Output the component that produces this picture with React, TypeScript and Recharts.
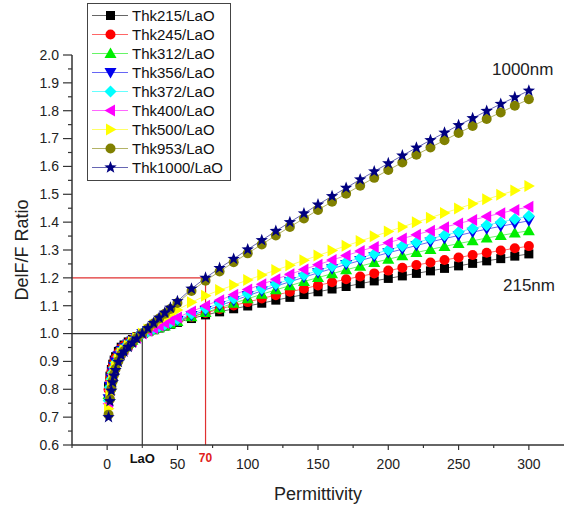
import { LineChart, Line, XAxis, YAxis, ReferenceLine, Legend } from "recharts";

// permittivity values (x) shared by every thickness
const PERM = [1, 2, 3, 4, 5, 6, 8, 10, 12, 15, 18, 21, 25, 29, 33, 37, 41, 45, 50,
  60, 70, 80, 90, 100, 110, 120, 130, 140, 150, 160, 170, 180, 190, 200,
  210, 220, 230, 240, 250, 260, 270, 280, 290, 300];

const THK215 = [0.811, 0.847, 0.871, 0.890, 0.905, 0.917, 0.936, 0.951, 0.959, 0.970, 0.979, 0.989, 1.000,
  1.007, 1.014, 1.020, 1.027, 1.033, 1.040,
  1.054, 1.067, 1.078, 1.089, 1.099, 1.109, 1.120, 1.130, 1.140, 1.150, 1.160, 1.169, 1.179, 1.189, 1.198,
  1.207, 1.216, 1.225, 1.234, 1.243, 1.252, 1.261, 1.269, 1.278, 1.286];
const THK245 = [0.799, 0.837, 0.863, 0.883, 0.899, 0.912, 0.932, 0.948, 0.956, 0.968, 0.978, 0.988, 1.000,
  1.008, 1.015, 1.022, 1.029, 1.036, 1.044,
  1.060, 1.074, 1.088, 1.101, 1.113, 1.126, 1.138, 1.150, 1.161, 1.173, 1.184, 1.195, 1.205, 1.216, 1.226,
  1.236, 1.246, 1.255, 1.264, 1.273, 1.282, 1.290, 1.298, 1.306, 1.314];
const THK312 = [0.781, 0.823, 0.850, 0.872, 0.890, 0.904, 0.926, 0.943, 0.953, 0.965, 0.976, 0.987, 1.000,
  1.007, 1.014, 1.021, 1.027, 1.034, 1.043,
  1.060, 1.076, 1.092, 1.109, 1.125, 1.141, 1.157, 1.172, 1.187, 1.201, 1.215, 1.229, 1.242, 1.255, 1.267,
  1.279, 1.291, 1.302, 1.313, 1.323, 1.333, 1.343, 1.352, 1.361, 1.369];
const THK356 = [0.766, 0.810, 0.840, 0.863, 0.882, 0.898, 0.920, 0.939, 0.949, 0.963, 0.974, 0.986, 1.000,
  1.008, 1.016, 1.024, 1.031, 1.038, 1.047,
  1.065, 1.083, 1.100, 1.118, 1.136, 1.153, 1.170, 1.186, 1.202, 1.218, 1.233, 1.248, 1.262, 1.276, 1.290,
  1.303, 1.316, 1.329, 1.341, 1.352, 1.364, 1.375, 1.385, 1.395, 1.405];
const THK372 = [0.760, 0.806, 0.836, 0.860, 0.879, 0.895, 0.918, 0.938, 0.948, 0.962, 0.974, 0.986, 1.000,
  1.008, 1.017, 1.025, 1.033, 1.041, 1.051,
  1.071, 1.090, 1.108, 1.126, 1.143, 1.161, 1.178, 1.194, 1.210, 1.226, 1.242, 1.257, 1.271, 1.286, 1.300,
  1.314, 1.327, 1.340, 1.353, 1.365, 1.377, 1.389, 1.400, 1.411, 1.422];
const THK400 = [0.748, 0.796, 0.828, 0.853, 0.873, 0.890, 0.914, 0.934, 0.945, 0.960, 0.972, 0.985, 1.000,
  1.010, 1.019, 1.028, 1.038, 1.047, 1.058,
  1.079, 1.100, 1.120, 1.139, 1.158, 1.177, 1.195, 1.213, 1.230, 1.247, 1.264, 1.280, 1.296, 1.311, 1.326,
  1.341, 1.355, 1.369, 1.382, 1.395, 1.408, 1.420, 1.432, 1.444, 1.455];
const THK500 = [0.730, 0.781, 0.815, 0.842, 0.864, 0.882, 0.908, 0.930, 0.941, 0.957, 0.970, 0.984, 1.000,
  1.015, 1.030, 1.044, 1.057, 1.070, 1.085,
  1.112, 1.136, 1.156, 1.174, 1.192, 1.210, 1.228, 1.245, 1.263, 1.280, 1.298, 1.315, 1.332, 1.349, 1.366,
  1.383, 1.400, 1.416, 1.433, 1.449, 1.466, 1.482, 1.498, 1.514, 1.530];
const THK953 = [0.709, 0.764, 0.801, 0.830, 0.854, 0.873, 0.901, 0.924, 0.937, 0.953, 0.968, 0.983, 1.000,
  1.018, 1.036, 1.054, 1.071, 1.088, 1.110,
  1.153, 1.190, 1.223, 1.256, 1.288, 1.320, 1.352, 1.383, 1.413, 1.444, 1.473, 1.502, 1.531, 1.559, 1.587,
  1.614, 1.642, 1.668, 1.694, 1.720, 1.745, 1.770, 1.794, 1.818, 1.841];
const THK1000 = [0.700, 0.757, 0.795, 0.825, 0.849, 0.869, 0.898, 0.922, 0.935, 0.952, 0.967, 0.982, 1.000,
  1.019, 1.038, 1.057, 1.075, 1.093, 1.116,
  1.161, 1.200, 1.235, 1.268, 1.302, 1.335, 1.368, 1.400, 1.431, 1.463, 1.493, 1.523, 1.553, 1.582, 1.611,
  1.639, 1.667, 1.694, 1.721, 1.748, 1.773, 1.799, 1.824, 1.848, 1.872];

const X_TICKS = [-25, 0, 25, 50, 70, 75, 100, 125, 150, 175, 200, 225, 250, 275, 300];
const Y_TICKS = [0.6, 0.65, 0.7, 0.75, 0.8, 0.85, 0.9, 0.95, 1.0, 1.05, 1.1, 1.15, 1.2, 1.25, 1.3, 1.35,
  1.4, 1.45, 1.5, 1.55, 1.6, 1.65, 1.7, 1.75, 1.8, 1.85, 1.9, 1.95, 2.0];

const SERIES = [
  { key: "t215", name: "Thk215/LaO", values: THK215, color: "#000000", shape: "square" },
  { key: "t245", name: "Thk245/LaO", values: THK245, color: "#ff0000", shape: "circle" },
  { key: "t312", name: "Thk312/LaO", values: THK312, color: "#00ee00", shape: "up" },
  { key: "t356", name: "Thk356/LaO", values: THK356, color: "#0000ee", shape: "down" },
  { key: "t372", name: "Thk372/LaO", values: THK372, color: "#00ffff", shape: "diamond" },
  { key: "t400", name: "Thk400/LaO", values: THK400, color: "#ff00ff", shape: "left" },
  { key: "t500", name: "Thk500/LaO", values: THK500, color: "#ffff00", shape: "right" },
  { key: "t953", name: "Thk953/LaO", values: THK953, color: "#808000", shape: "circle" },
  { key: "t1000", name: "Thk1000/LaO", values: THK1000, color: "#000080", shape: "star" },
];

const rows = PERM.map((x, i) => {
  const r: Record<string, number> = { x };
  SERIES.forEach((s) => { r[s.key] = s.values[i]; });
  return r;
});

const FONT = "'Liberation Sans', Arial, sans-serif";

function Marker({ shape, cx, cy, color }: { shape: string; cx: number; cy: number; color: string }) {
  const p = (pts: number[][]) => pts.map((q) => `${cx + q[0]},${cy + q[1]}`).join(" ");
  switch (shape) {
    case "square":
      return <rect x={cx - 4.5} y={cy - 4.5} width={9} height={9} fill={color} />;
    case "circle":
      return <circle cx={cx} cy={cy} r={5} fill={color} />;
    case "up":
      return <polygon points={p([[0, -6], [-6, 4.5], [6, 4.5]])} fill={color} />;
    case "down":
      return <polygon points={p([[0, 6], [-6, -4.5], [6, -4.5]])} fill={color} />;
    case "diamond":
      return <polygon points={p([[0, -6], [6, 0], [0, 6], [-6, 0]])} fill={color} />;
    case "left":
      return <polygon points={p([[-6, 0], [4.5, -6], [4.5, 6]])} fill={color} />;
    case "right":
      return <polygon points={p([[6, 0], [-4.5, -6], [-4.5, 6]])} fill={color} />;
    default: {
      const pts = [];
      for (let i = 0; i < 10; i++) {
        const a = -Math.PI / 2 + (i * Math.PI) / 5;
        const rad = i % 2 ? 2.7 : 6.5;
        pts.push([rad * Math.cos(a), rad * Math.sin(a)]);
      }
      return <polygon points={p(pts)} fill={color} />;
    }
  }
}

function XTick(props: any) {
  const { x, y, payload } = props;
  const v = payload.value;
  if (v === 70) {
    return <text x={x} y={y + 13} dy="0.35em" textAnchor="middle" fill="#e02020"
      fontSize={12} fontWeight="bold" fontFamily={FONT}>70</text>;
  }
  if (v === 25) {
    return (
      <g>
        <line x1={x} y1={y} x2={x} y2={y + 3} stroke="#333" />
        <text x={x} y={y + 13} dy="0.35em" textAnchor="middle" fill="#111"
          fontSize={13} fontWeight="bold" fontFamily={FONT}>LaO</text>
      </g>
    );
  }
  const major = v % 50 === 0;
  return (
    <g>
      <line x1={x} y1={y} x2={x} y2={y + (major ? 5 : 3)} stroke="#333" strokeWidth={1.2} />
      {major && (
        <text x={x} y={y + 19} dy="0.35em" textAnchor="middle" fill="#222" fontSize={14} fontFamily={FONT}>{v}</text>
      )}
    </g>
  );
}

function YTick(props: any) {
  const { x, y, payload } = props;
  const v = payload.value;
  const major = Math.round(v * 100) % 10 === 0;
  return (
    <g>
      <line x1={x - (major ? 9 : 4)} y1={y} x2={x} y2={y} stroke="#333" strokeWidth={1.2} />
      {major && (
        <text x={x - 13} y={y} dy="0.35em" textAnchor="end" fill="#222" fontSize={14} fontFamily={FONT}>{v.toFixed(1)}</text>
      )}
    </g>
  );
}

function LegendBox() {
  return (
    <div style={{ border: "1.5px solid #444", background: "#fff", width: 142, height: 174, paddingTop: 2, boxSizing: "content-box" }}>
      {SERIES.map((s) => (
        <div key={s.key} style={{ display: "flex", alignItems: "center", height: 19 }}>
          <svg width={44} height={19}>
            <line x1={4} y1={9.5} x2={40} y2={9.5} stroke={s.color} strokeOpacity={0.6} />
            <Marker shape={s.shape} cx={22.5} cy={9.5} color={s.color} />
          </svg>
          <span style={{ fontFamily: FONT, fontSize: 15, color: "#111", whiteSpace: "nowrap" }}>{s.name}</span>
        </div>
      ))}
    </div>
  );
}

export default function App() {
  return (
    <div style={{ position: "absolute", left: 0, top: 0, width: 564, height: 506, background: "#fff" }}>
      <LineChart width={564} height={506} data={rows} margin={{ top: 55, right: 0, bottom: 0, left: 12 }}>
        <XAxis type="number" dataKey="x" domain={[-25, 325]} ticks={X_TICKS} interval={0} height={61}
          tickSize={0} tickMargin={0} tickLine={false} tick={<XTick />}
          axisLine={{ stroke: "#333", strokeWidth: 1.5 }}
          label={{ value: "Permittivity", position: "insideBottom", offset: 6, fill: "#222", fontSize: 18, fontFamily: FONT }} />
        <YAxis type="number" domain={[0.6, 2.0]} ticks={Y_TICKS} interval={0} width={60}
          tickSize={0} tickMargin={0} tickLine={false} tick={<YTick />}
          axisLine={{ stroke: "#333", strokeWidth: 1.5 }}
          label={{ value: "DelF/F Ratio", angle: -90, position: "insideLeft", offset: 10, fill: "#222", fontSize: 18, fontFamily: FONT, style: { textAnchor: "middle" } }} />
        <ReferenceLine segment={[{ x: -25, y: 1 }, { x: 25, y: 1 }]} stroke="#333" strokeWidth={1.2} />
        <ReferenceLine segment={[{ x: 25, y: 0.6 }, { x: 25, y: 1 }]} stroke="#333" strokeWidth={1.2} />
        <ReferenceLine segment={[{ x: -25, y: 1.2 }, { x: 70, y: 1.2 }]} stroke="#e03030" strokeWidth={1.2} />
        <ReferenceLine segment={[{ x: 70, y: 0.6 }, { x: 70, y: 1.2 }]} stroke="#e03030" strokeWidth={1.2} />
        {SERIES.map((s) => (
          <Line key={s.key} dataKey={s.key} name={s.name} stroke={s.color} strokeOpacity={0.6} strokeWidth={1}
            isAnimationActive={false} activeDot={false}
            dot={(p: any) => <Marker key={`${s.key}-${p.index}`} shape={s.shape} cx={p.cx} cy={p.cy} color={s.color} />} />
        ))}
        <Legend layout="vertical" align="center" verticalAlign="middle" content={<LegendBox />}
          wrapperStyle={{ left: 87, top: 3, width: 145, height: 178 }} />
      </LineChart>
      <div style={{ position: "absolute", left: 492, top: 60, fontFamily: FONT, fontSize: 17, color: "#222" }}>1000nm</div>
      <div style={{ position: "absolute", left: 503, top: 276, fontFamily: FONT, fontSize: 17, color: "#222" }}>215nm</div>
    </div>
  );
}
